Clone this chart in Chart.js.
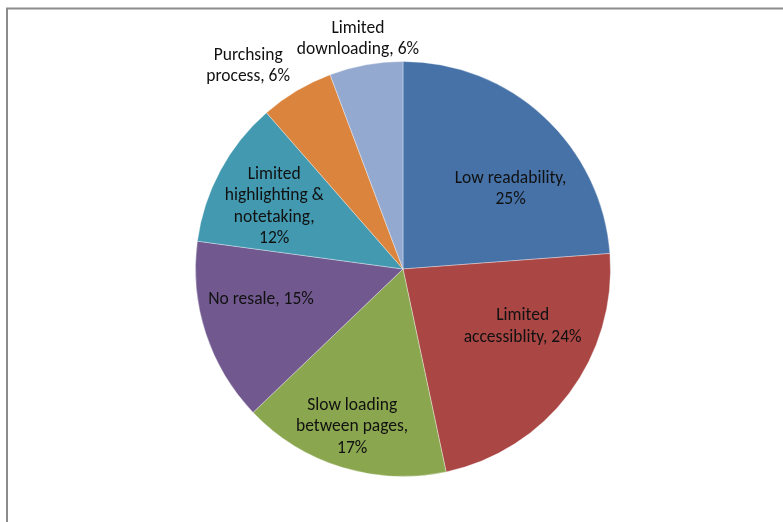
<!DOCTYPE html>
<html>
<head>
<meta charset="utf-8">
<script src="https://cdn.jsdelivr.net/npm/chart.js@4/dist/chart.umd.min.js"></script>
<style>
  html, body { margin: 0; padding: 0; background: #ffffff; }
  #wrap { width: 783px; height: 522px; position: relative; }
</style>
</head>
<body>
<div id="wrap"><canvas id="c" width="783" height="522"></canvas></div>
<script>
// ---- data ----
const categories = [
  'Low readability',
  'Limited accessiblity',
  'Slow loading between pages',
  'No resale',
  'Limited highlighting & notetaking',
  'Purchsing process',
  'Limited downloading'
];
const values = [25, 24, 17, 15, 12, 6, 6];
const labelLines = [
  ['Low readability,', '25%'],
  ['Limited', 'accessiblity, 24%'],
  ['Slow loading', 'between pages,', '17%'],
  ['No resale, 15%'],
  ['Limited', 'highlighting &', 'notetaking,', '12%'],
  ['Purchsing', 'process, 6%'],
  ['Limited', 'downloading, 6%']
];

// ---- styles / layout ----
const colors = ['#4672A8', '#AA4644', '#8AA64F', '#71588F', '#4299B0', '#DB843D', '#94A9CF'];
// label placement: angle offset (deg) from slice middle, radius factor
const labelPlace = [
  [10.6, 0.645], [-11.1, 0.64], [0.7, 0.80], [5.8, 0.70], [-2.4, 0.69], [-6.5, 1.23], [-0.8, 1.13]
];
const FONT = "17.5px 'Carlito', 'Lato', sans-serif";
const LINE_H = 21.5;

const framePlugin = {
  id: 'frame',
  beforeDraw(chart) {
    const ctx = chart.ctx;
    ctx.save();
    ctx.fillStyle = '#ffffff';
    ctx.fillRect(0, 0, chart.width, chart.height);
    ctx.strokeStyle = '#8c8c8c';
    ctx.lineWidth = 2;
    ctx.beginPath();
    ctx.moveTo(7, chart.height + 5);
    ctx.lineTo(7, 8.5);
    ctx.lineTo(chart.width + 5, 8.5);
    ctx.stroke();
    ctx.restore();
  }
};

const labelPlugin = {
  id: 'sliceLabels',
  afterDatasetsDraw(chart) {
    const ctx = chart.ctx;
    const meta = chart.getDatasetMeta(0);
    ctx.save();
    ctx.font = FONT;
    ctx.fillStyle = '#111111';
    ctx.textAlign = 'center';
    ctx.textBaseline = 'middle';
    meta.data.forEach((arc, i) => {
      const p = arc.getProps(['x', 'y', 'startAngle', 'endAngle', 'outerRadius'], true);
      const mid = (p.startAngle + p.endAngle) / 2 + labelPlace[i][0] * Math.PI / 180;
      const r = p.outerRadius * labelPlace[i][1];
      const cx = p.x + Math.cos(mid) * r;
      const cy = p.y + Math.sin(mid) * r;
      const lines = labelLines[i];
      const y0 = cy - (lines.length - 1) * LINE_H / 2;
      lines.forEach((t, k) => ctx.fillText(t, cx, y0 + k * LINE_H));
    });
    ctx.restore();
  }
};

new Chart(document.getElementById('c'), {
  type: 'pie',
  data: {
    labels: categories,
    datasets: [{
      data: values,
      backgroundColor: colors,
      borderColor: 'rgba(255,255,255,0.35)',
      borderWidth: 1
    }]
  },
  options: {
    responsive: false,
    animation: false,
    devicePixelRatio: 1,
    layout: { padding: { left: 195, right: 172, top: 61, bottom: 45 } },
    plugins: {
      legend: { display: false },
      tooltip: { enabled: false },
      title: { display: false }
    }
  },
  plugins: [framePlugin, labelPlugin]
});
</script>
</body>
</html>
